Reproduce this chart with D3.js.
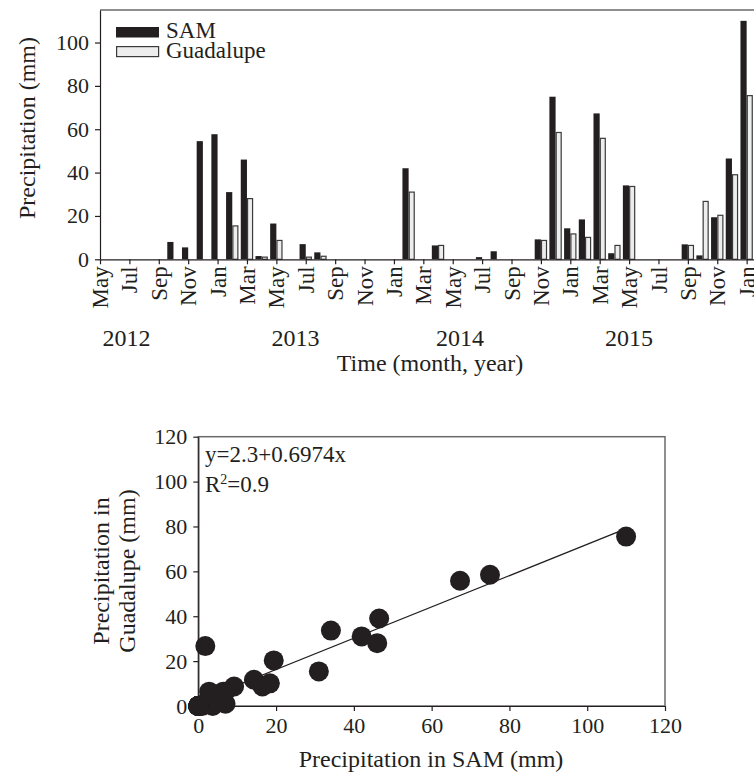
<!DOCTYPE html>
<html lang="en">
<head>
    <meta charset="UTF-8">
    <title>Precipitation SAM vs Guadalupe</title>
    <script src="https://d3js.org/d3.v7.min.js"></script>
    <style>
        body { margin: 0; background: #fff; }
        svg { display: block; font-family: "Liberation Serif", serif; }
        text { fill: #231f20; font-size: 24px; }
        .axis path, .axis line { stroke: #231f20; stroke-width: 1.2; }
        .axis text { font-family: "Liberation Serif", serif; font-size: 22px; fill: #231f20; }
        .legend text { font-size: 23px; }
    </style>
</head>
<body>
<svg width="754" height="772"></svg>
<script>
    // months May 2012 .. Jan 2016
    const months = ["May","Jun","Jul","Aug","Sep","Oct","Nov","Dec","Jan","Feb","Mar","Apr",
                    "May","Jun","Jul","Aug","Sep","Oct","Nov","Dec","Jan","Feb","Mar","Apr",
                    "May","Jun","Jul","Aug","Sep","Oct","Nov","Dec","Jan","Feb","Mar","Apr",
                    "May","Jun","Jul","Aug","Sep","Oct","Nov","Dec","Jan"];
    const sam = [0,0,0,0,0,8,5.5,54.5,57.7,31,46,1.5,
                 16.5,0,7,3.2,0,0,0,0,0,42,0,6.4,
                 0,0,1,3.7,0,0,9.2,75,14.3,18.4,67.3,2.8,
                 34.1,0,0,0,6.9,1.8,19.4,46.5,110];
    // null = no record at Guadalupe yet
    const guadalupe = [null,null,null,null,null,null,null,null,null,15.4,28,1,
                       8.7,0,1,1.4,0,0,0,0,0,31,0,6.4,
                       0,0,0,0,0,0,8.7,58.5,11.7,10.1,55.8,6.4,
                       33.6,0,0,0,6.4,26.7,20.3,39,75.5];
    const years = ["2012","2013","2014","2015"];
    const yearAt = [1.8, 13.3, 24.5, 36];   // month index under each year label
    const barTicks = [0,20,40,60,80,100];
    const scatTicks = [0,20,40,60,80,100,120];
    const fitA = 2.3, fitB = 0.6974;

    const svg = d3.select("svg");
    const dark = "#231f20";

    // ---------- top: monthly bars ----------
    const x = d3.scaleLinear().domain([0, 44.5]).range([100, 754]);
    const y = d3.scaleLinear().domain([0, 115]).range([259.3, 10]);
    const bw = 6.2;

    svg.append("line")
        .attr("x1", x(0)).attr("x2", 754).attr("y1", y(115)).attr("y2", y(115))
        .attr("stroke", "#6a6a6a").attr("stroke-width", 1.5);

    const idx = d3.range(months.length);
    svg.append("g").selectAll("rect").data(idx.filter(i => sam[i] > 0)).join("rect")
        .attr("x", i => x(i) - bw).attr("width", bw)
        .attr("y", i => y(sam[i])).attr("height", i => y(0) - y(sam[i]))
        .attr("fill", dark);
    svg.append("g").selectAll("rect").data(idx.filter(i => guadalupe[i] > 0)).join("rect")
        .attr("x", i => x(i) + 0.6).attr("width", bw - 1.2)
        .attr("y", i => y(guadalupe[i])).attr("height", i => y(0) - y(guadalupe[i]))
        .attr("fill", "#ededed").attr("stroke", "#3a3a3a").attr("stroke-width", 1.2);

    svg.append("g").attr("class", "axis")
        .attr("transform", `translate(0,${y(0)})`)
        .call(d3.axisBottom(x).tickValues(d3.range(0, 45, 2)).tickSize(5).tickSizeOuter(0)
            .tickFormat(i => months[i]))
        .selectAll("text")
        .style("font-size", "23px")
        .attr("transform", "rotate(-90)")
        .attr("x", -7).attr("y", 0).attr("dy", "0.33em")
        .style("text-anchor", "end");

    svg.append("g").attr("class", "axis")
        .attr("transform", `translate(${x(0)},0)`)
        .call(d3.axisLeft(y).tickValues(barTicks).tickSize(5).tickSizeOuter(0).tickPadding(6));

    svg.append("g").selectAll("text").data(years).join("text")
        .attr("x", (d, i) => x(yearAt[i])).attr("y", 346)
        .attr("text-anchor", "middle").text(d => d);

    svg.append("text").attr("x", 430).attr("y", 371).attr("text-anchor", "middle")
        .text("Time (month, year)");
    svg.append("text").attr("transform", "translate(35,128) rotate(-90)")
        .attr("text-anchor", "middle").text("Precipitation (mm)");

    // legend
    const lg = svg.append("g").attr("class", "legend");
    lg.append("rect").attr("x", 116).attr("y", 27).attr("width", 43).attr("height", 10.5).attr("fill", dark);
    lg.append("rect").attr("x", 116.6).attr("y", 46.6).attr("width", 42).attr("height", 10)
        .attr("fill", "#ededed").attr("stroke", "#3a3a3a").attr("stroke-width", 1.2);
    lg.append("text").attr("x", 166).attr("y", 38).text("SAM");
    lg.append("text").attr("x", 166).attr("y", 58).text("Guadalupe");

    // ---------- bottom: scatter ----------
    const sx = d3.scaleLinear().domain([0, 120]).range([198.3, 665]);
    const sy = d3.scaleLinear().domain([0, 120]).range([706, 436.7]);
    const pts = idx.filter(i => guadalupe[i] !== null).map(i => [sam[i], guadalupe[i]]);

    svg.append("rect").attr("x", sx(0)).attr("y", sy(120))
        .attr("width", sx(120) - sx(0)).attr("height", sy(0) - sy(120))
        .attr("fill", "none").attr("stroke", "#6a6a6a").attr("stroke-width", 1.5);

    svg.append("g").attr("class", "axis")
        .attr("transform", `translate(0,${sy(0)})`)
        .call(d3.axisBottom(sx).tickValues(scatTicks).tickSize(5).tickSizeOuter(0).tickPadding(6));
    svg.append("g").attr("class", "axis")
        .attr("transform", `translate(${sx(0)},0)`)
        .call(d3.axisLeft(sy).tickValues(scatTicks).tickSize(5).tickSizeOuter(0).tickPadding(6));

    const xmax = d3.max(pts, d => d[0]);
    svg.append("line")
        .attr("x1", sx(0)).attr("y1", sy(fitA))
        .attr("x2", sx(xmax)).attr("y2", sy(fitA + fitB * xmax))
        .attr("stroke", dark).attr("stroke-width", 1.3);

    svg.append("g").selectAll("circle").data(pts).join("circle")
        .attr("cx", d => sx(d[0])).attr("cy", d => sy(d[1])).attr("r", 10)
        .attr("fill", dark);

    svg.append("text").attr("x", 205).attr("y", 462).style("font-size", "23px").text("y=2.3+0.6974x");
    const r2 = svg.append("text").attr("x", 205).attr("y", 492).style("font-size", "23px");
    r2.append("tspan").text("R");
    r2.append("tspan").attr("dy", -8).style("font-size", "14px").text("2");
    r2.append("tspan").attr("dy", 8).text("=0.9");

    svg.append("text").attr("x", 431).attr("y", 767).attr("text-anchor", "middle")
        .text("Precipitation in SAM (mm)");
    svg.append("text").attr("transform", "translate(109,571) rotate(-90)")
        .attr("text-anchor", "middle").text("Precipitation in");
    svg.append("text").attr("transform", "translate(135,571) rotate(-90)")
        .attr("text-anchor", "middle").text("Guadalupe (mm)");
</script>
</body>
</html>
